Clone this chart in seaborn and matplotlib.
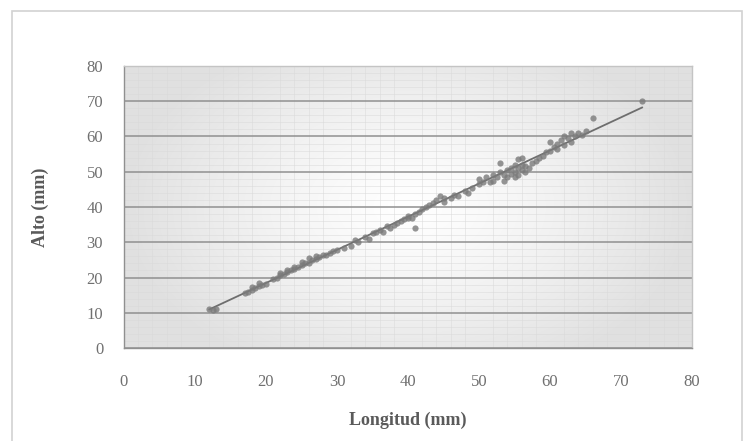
import numpy as np
import pandas as pd
import matplotlib
matplotlib.use("Agg")
import matplotlib.pyplot as plt
import seaborn as sns
from matplotlib.patches import Rectangle

longitud = [12, 12.5, 13,
            17, 17.5, 18, 18.5, 19, 19.5, 20, 18, 19,
            21, 21.5, 22, 22.5, 23, 23, 23.5, 24, 24.5, 25, 25.5, 25, 26, 26.5, 27, 27, 27.5, 28, 28.5, 29, 29.5, 30, 26, 24, 22,
            31, 32, 32.5, 33, 34, 34.5, 35, 35.5,
            36, 36.5, 37, 37.5, 38, 38.5, 39, 39.5, 40, 40, 40.5, 41, 41, 41.5, 42, 42.5, 43, 43.5, 44, 44.5, 45, 45,
            46, 46.5, 47, 48, 48.5, 49, 50, 50, 50.5,
            51, 51.5, 52, 52, 52.5, 53, 53, 53.5, 53.5, 54, 54, 54.5, 54.5, 55, 55, 55, 55.5, 55.5, 55.5, 56, 56, 56, 56.5, 56.5, 57, 57.5, 58,
            58.5, 59, 59.5, 60, 60, 60.5, 61, 61, 61.5, 62, 62, 62.5, 63, 63, 63.5, 64, 64.5, 65,
            66, 73]
alto = [11, 10.8, 11,
        15.5, 16, 16.5, 17, 17.5, 18, 18.2, 17.2, 18.3,
        19.5, 20, 20.8, 21, 21.5, 22, 22, 22.3, 23, 23.5, 24, 24.5, 24.2, 25, 25.3, 26, 25.8, 26.3, 26.5, 27, 27.5, 27.8, 25.5, 23, 21.3,
        28.5, 29, 30.5, 30, 31.5, 31, 32.5, 33,
        33.5, 33, 34.5, 34, 35, 35.5, 36, 36.5, 36.8, 37.5, 37, 38, 34, 38.5, 39.5, 40, 40.5, 41, 42, 43, 42.5, 41.5,
        42.5, 43.5, 43, 44.5, 44, 45.5, 46.5, 48, 47,
        48.5, 47, 49, 47.5, 48.5, 50, 52.5, 49, 47.5, 50.5, 48.5, 51, 49.5, 52, 50, 48.5, 53.5, 51, 49, 50.5, 52, 54, 50, 51.5, 51, 52.5, 53,
        54, 54.5, 55.5, 56, 58.5, 57, 58, 56.5, 59, 60, 57.5, 59.5, 58.5, 61, 60, 61, 60.5, 61.5,
        65.3, 70]

x_ticks = [0, 10, 20, 30, 40, 50, 60, 70, 80]
y_ticks = [0, 10, 20, 30, 40, 50, 60, 70, 80]

df = pd.DataFrame({"Longitud": longitud, "Alto": alto})

sns.set_theme(style="white")
plt.rcParams["font.family"] = ["Liberation Serif", "DejaVu Serif"]

fig = plt.figure(figsize=(7.49, 4.41), dpi=100)
fig.patch.set_facecolor("white")
ax = fig.add_axes([124 / 749, 1 - 348 / 441, (692 - 124) / 749, (348 - 66) / 441])

# outer chart frame
fig.patches.append(Rectangle((12 / 749, -0.05), (742 - 12) / 749, 1.05 - 11 / 441,
                             transform=fig.transFigure, fill=False,
                             edgecolor="#d2d2d2", linewidth=1.2, zorder=0))

# gradient plot-area fill (white centre, light grey edges)
gx = np.linspace(-1, 1, 300)
gy = np.linspace(-1, 1, 200)
GX, GY = np.meshgrid(gx, gy)
r = np.clip(np.sqrt(GX ** 2 + (GY / 1.3) ** 2), 0, 1)
shade = 1.0 - 0.12 * r ** 1.3
rgb = np.dstack([shade, shade, shade])
ax.imshow(rgb, extent=[0, 80, 0, 80], aspect="auto", zorder=0, interpolation="bilinear")

ax.set_xlim(0, 80)
ax.set_ylim(0, 80)

# minor fine grid
ax.set_xticks(np.arange(0, 81, 2), minor=True)
ax.set_yticks(np.arange(0, 81, 2), minor=True)
ax.grid(which="minor", color="#d9d9d9", linewidth=0.5, alpha=0.7, zorder=1)
ax.yaxis.grid(which="major", color="#909090", linewidth=1.1, zorder=2)
ax.xaxis.grid(False, which="major")

sns.regplot(data=df, x="Longitud", y="Alto", ax=ax, ci=None,
            scatter_kws=dict(s=20, color="#7a7a7a", edgecolor="#7a7a7a", linewidths=0, zorder=4),
            line_kws=dict(color="#6e6e6e", linewidth=1.3, zorder=3))

ax.set_xticks(x_ticks)
ax.set_yticks(y_ticks)
ax.set_xticklabels([str(t) for t in x_ticks])
ax.set_yticklabels([str(t) for t in y_ticks])
ax.tick_params(axis="both", which="major", direction="out", length=6, width=1,
               color="#909090", labelsize=12, labelcolor="#707070")
ax.tick_params(axis="x", which="major", pad=13)
ax.tick_params(axis="y", which="major", pad=9)
ax.tick_params(axis="both", which="minor", length=0)

for s in ax.spines.values():
    s.set_color("#c4c4c4")
    s.set_linewidth(1)
ax.spines["left"].set_color("#909090")
ax.spines["bottom"].set_color("#909090")

ax.set_xlabel("Longitud (mm)", fontsize=13, fontweight="bold", color="#5a5a5a", labelpad=15)
ax.set_ylabel("Alto (mm)", fontsize=13, fontweight="bold", color="#5a5a5a", labelpad=27)

fig.savefig("out.png", dpi=100)
